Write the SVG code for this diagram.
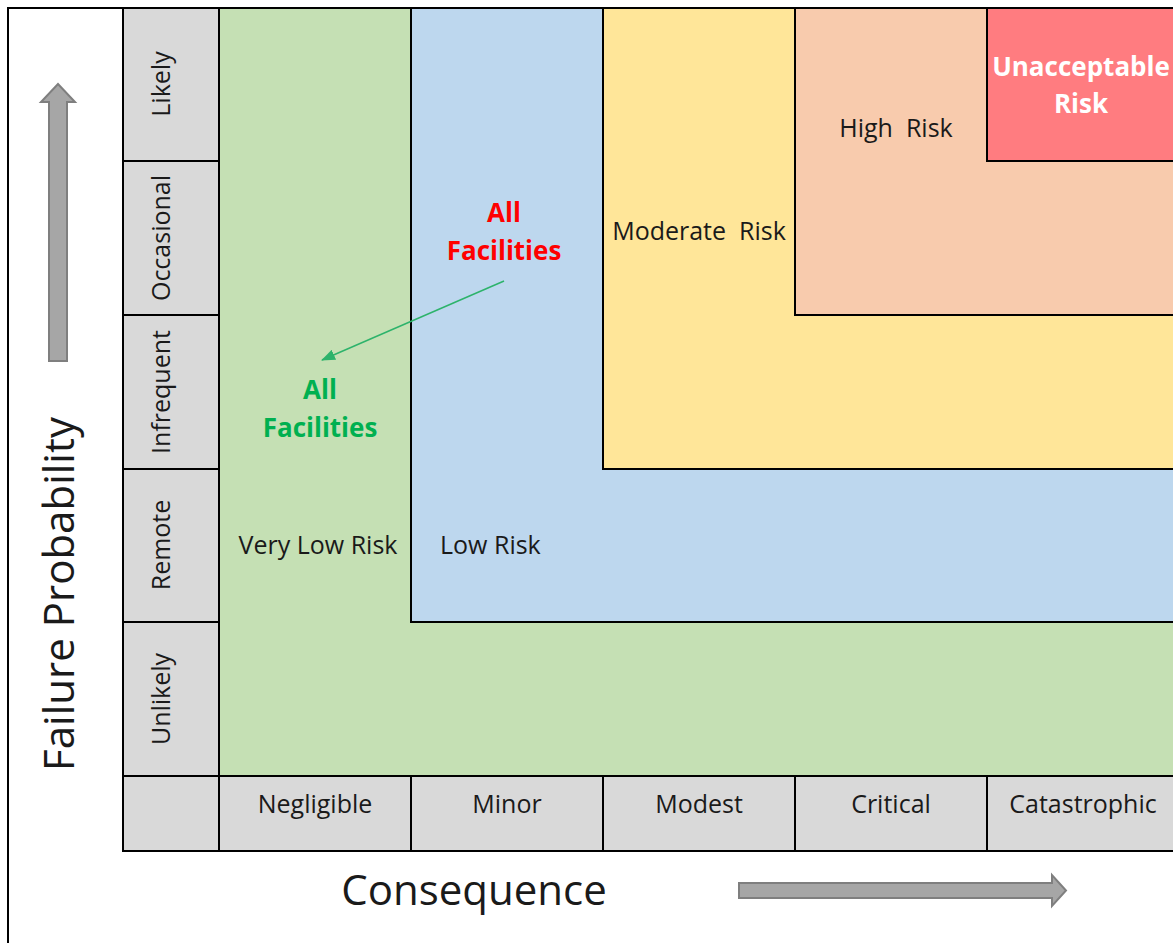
<svg xmlns="http://www.w3.org/2000/svg" width="1173" height="943" viewBox="0 0 1173 943">
<style>
text{font-family:"Open Sans","Liberation Sans",sans-serif;fill:#1a1a1a}
.cell{fill:#D9D9D9;stroke:#000;stroke-width:2}
.lbl{font-size:25px;text-anchor:middle}
.zl{font-size:25px}
.big{font-size:42px}
.zone{stroke:#000;stroke-width:2}
.arr{fill:#A6A6A6;stroke:#7F7F7F;stroke-width:2}
.b{font-weight:bold;font-size:26px;text-anchor:middle}
</style>
<defs>
<marker id="ah" markerWidth="14" markerHeight="11" refX="13" refY="5.5" orient="auto" markerUnits="userSpaceOnUse" viewBox="0 0 14 11"><path d="M0,0 L14,5.5 L0,11 z" fill="#2DB36B"/></marker>
</defs>
<rect x="0" y="0" width="1173" height="943" fill="#fff"/>
<path d="M8,943 V8 H1173" fill="none" stroke="#000" stroke-width="2"/>
<g id="zones">
<rect id="z-verylow" x="219" y="8" width="960" height="768" fill="#C5E0B4" class="zone"/>
<rect id="z-low" x="411" y="8" width="768" height="614" fill="#BDD7EE" class="zone"/>
<rect id="z-moderate" x="603" y="8" width="576" height="461" fill="#FFE699" class="zone"/>
<rect id="z-high" x="795" y="8" width="384" height="307" fill="#F8CBAD" class="zone"/>
<rect id="z-unacc" x="987" y="8" width="192" height="153" fill="#FF7C80" class="zone"/>
</g>
<g id="rows">
<g id="r-likely"><rect class="cell" x="123" y="8" width="96" height="153"/><text class="lbl" transform="translate(170,84) rotate(-90)">Likely</text></g>
<g id="r-occasional"><rect class="cell" x="123" y="161" width="96" height="154"/><text class="lbl" transform="translate(170,238) rotate(-90)">Occasional</text></g>
<g id="r-infrequent"><rect class="cell" x="123" y="315" width="96" height="154"/><text class="lbl" transform="translate(170,392) rotate(-90)">Infrequent</text></g>
<g id="r-remote"><rect class="cell" x="123" y="469" width="96" height="153"/><text class="lbl" transform="translate(170,545) rotate(-90)">Remote</text></g>
<g id="r-unlikely"><rect class="cell" x="123" y="622" width="96" height="154"/><text class="lbl" transform="translate(170,699) rotate(-90)">Unlikely</text></g>
</g>
<g id="cols">
<rect class="cell" x="123" y="776" width="96" height="75"/>
<g id="c-negligible"><rect class="cell" x="219" y="776" width="192" height="75"/><text class="lbl" x="315" y="813">Negligible</text></g>
<g id="c-minor"><rect class="cell" x="411" y="776" width="192" height="75"/><text class="lbl" x="507" y="813">Minor</text></g>
<g id="c-modest"><rect class="cell" x="603" y="776" width="192" height="75"/><text class="lbl" x="699" y="813">Modest</text></g>
<g id="c-critical"><rect class="cell" x="795" y="776" width="192" height="75"/><text class="lbl" x="891" y="813">Critical</text></g>
<g id="c-catastrophic"><rect class="cell" x="987" y="776" width="200" height="75"/><text class="lbl" x="1083" y="813">Catastrophic</text></g>
</g>
<g id="zone-labels">
<text class="zl" x="318" y="554" text-anchor="middle">Very Low Risk</text>
<text class="zl" x="440" y="554">Low Risk</text>
<text class="zl" x="699" y="240" text-anchor="middle" xml:space="preserve">Moderate  Risk</text>
<text class="zl" x="896" y="137" text-anchor="middle" xml:space="preserve">High  Risk</text>
<text class="b" x="1081" y="76" style="fill:#fff">Unacceptable</text>
<text class="b" x="1081" y="113" style="fill:#fff">Risk</text>
</g>
<g id="n-all-red">
<text class="b" x="504" y="222" style="fill:#FF0000">All</text>
<text class="b" x="504" y="260" style="fill:#FF0000">Facilities</text>
</g>
<g id="n-all-green">
<text class="b" x="320" y="399" style="fill:#00B050">All</text>
<text class="b" x="320" y="437" style="fill:#00B050">Facilities</text>
</g>
<g id="connectors">
<line x1="504" y1="281" x2="322" y2="360" stroke="#2DB36B" stroke-width="1.5" marker-end="url(#ah)"/>
</g>
<g id="axes">
<path class="arr" d="M49,361 V102 H41 L58,84 L75,102 H67 V361 Z"/>
<path class="arr" d="M739,883 H1052 V875 L1066,890.5 L1052,906 V898 H739 Z"/>
<text class="big" transform="translate(74,594) rotate(-90)" text-anchor="middle">Failure Probability</text>
<text class="big" x="474" y="905" text-anchor="middle">Consequence</text>
</g>
</svg>
